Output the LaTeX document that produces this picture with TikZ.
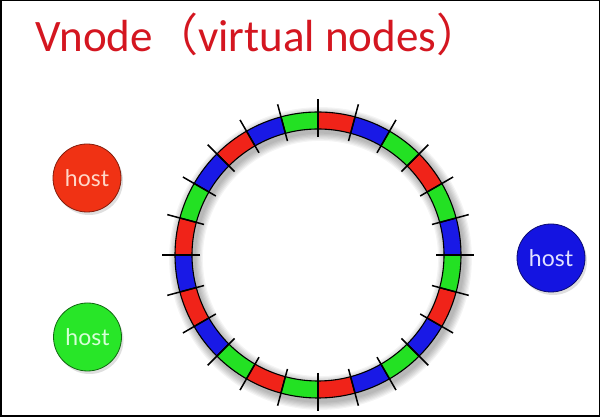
\documentclass[tikz,border=0pt]{standalone}
\usepackage{fontspec}
\setmainfont{Carlito}
\newfontfamily\cjk{Noto Sans CJK SC}
\newfontfamily\hostfont{Lato}
\usetikzlibrary{shadows}
\definecolor{ringred}{RGB}{240,35,25}
\definecolor{ringgreen}{RGB}{35,225,35}
\definecolor{ringblue}{RGB}{25,25,230}
\definecolor{titlered}{RGB}{212,22,32}
\definecolor{hostred}{RGB}{240,50,20}
\definecolor{hostgreen}{RGB}{40,230,40}
\definecolor{hostblue}{RGB}{20,20,225}
\tikzset{
  hostnode/.style={circle, minimum size=68pt, inner sep=0pt, line width=0.8pt,
    font=\hostfont\fontsize{23}{24}\selectfont,
    drop shadow={opacity=0.25, shadow xshift=2pt, shadow yshift=-3pt}},
  segment/.style={draw=black, line width=1.1pt},
  tickmark/.style={draw=black, line width=1.5pt}
}
\begin{document}
\begin{tikzpicture}[x=1pt,y=1pt]
\useasboundingbox (0,0) rectangle (600,417);
\fill[white] (0,0) rectangle (600,417);
\draw[line width=1.5pt] (0.75,0.75) rectangle (599.25,416.25);

\node[anchor=base west, text=titlered, font=\fontsize{45}{50}\selectfont, inner sep=0pt] (title) at (35,365) {Vnode{\cjk （}virtual nodes{\cjk ）}};

\begin{scope}[shift={(318,162)}]
  \foreach \i in {1,...,7}
    \draw[black, opacity=0.045, line width={17+2.4*\i}] (2.5,-3.5) circle[radius=134.5];
  \foreach \c [count=\k from 0] in {ringblue,ringgreen,ringred,ringgreen,ringblue,ringred,
      ringgreen,ringblue,ringred,ringblue,ringgreen,ringred,
      ringblue,ringred,ringblue,ringgreen,ringred,ringgreen,
      ringred,ringblue,ringgreen,ringblue,ringred,ringgreen}
    \filldraw[segment, fill=\c] ({15*\k}:126) arc[start angle={15*\k}, end angle={15*\k+15}, radius=126]
      -- ({15*\k+15}:143) arc[start angle={15*\k+15}, end angle={15*\k}, radius=143] -- cycle;
  \foreach \a in {0,15,...,345}
    \draw[tickmark] (\a:118) -- (\a:156);
\end{scope}

\node[hostnode, fill=hostred, draw=hostred!55!black, text={rgb,255:red,255;green,215;blue,200}] (hostA) at (87,239) {host};
\node[hostnode, fill=hostgreen, draw=hostgreen!45!black, text={rgb,255:red,215;green,255;blue,215}] (hostB) at (87.5,80) {host};
\node[hostnode, fill=hostblue, draw=hostblue!50!black, text={rgb,255:red,225;green,225;blue,255}] (hostC) at (551,159) {host};
\end{tikzpicture}
\end{document}
